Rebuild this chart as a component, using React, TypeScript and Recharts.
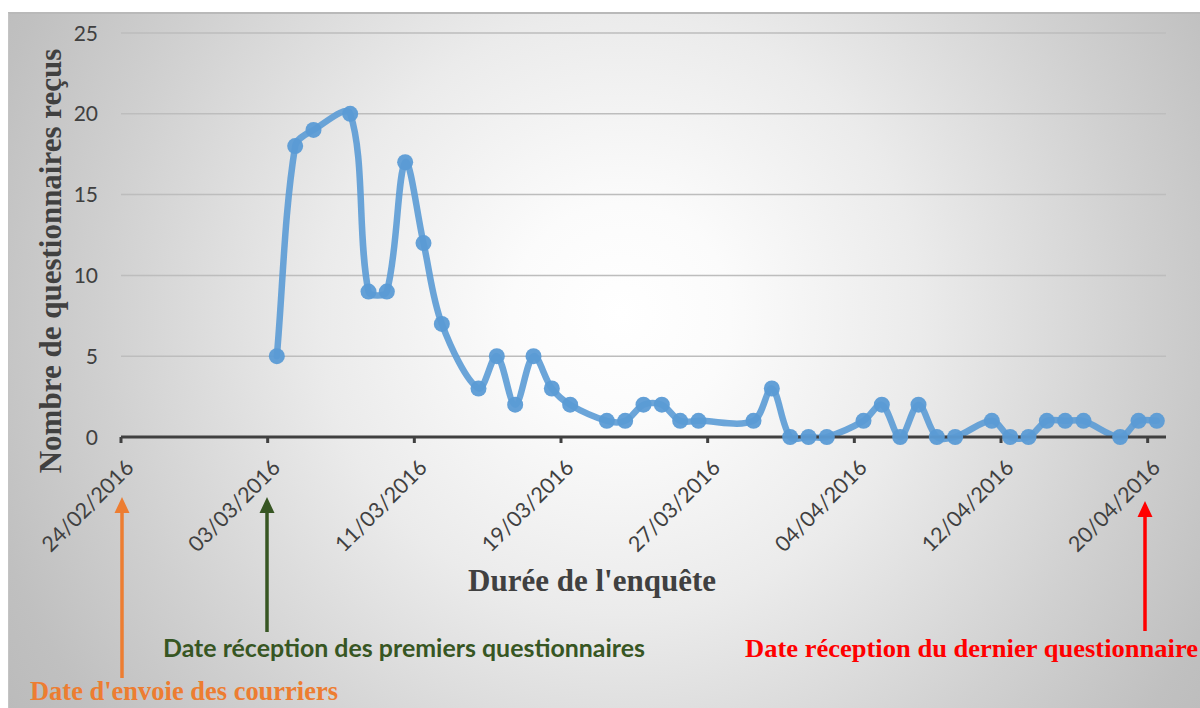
import React from "react";
import { LineChart, Line, XAxis, YAxis, CartesianGrid } from "recharts";

if (typeof document !== "undefined") {
  document.body.style.margin = "0";
  document.body.style.overflow = "hidden";
}

// ---- data ----
const tickLabels = [
  "24/02/2016",
  "03/03/2016",
  "11/03/2016",
  "19/03/2016",
  "27/03/2016",
  "04/04/2016",
  "12/04/2016",
  "20/04/2016",
];
const endLabel = "21/04/2016";

const receptionDates = [
  "03/03/2016", "04/03/2016", "05/03/2016", "07/03/2016", "08/03/2016",
  "09/03/2016", "10/03/2016", "11/03/2016", "12/03/2016", "14/03/2016",
  "15/03/2016", "16/03/2016", "17/03/2016", "18/03/2016", "19/03/2016",
  "21/03/2016", "22/03/2016", "23/03/2016", "24/03/2016", "25/03/2016",
  "26/03/2016", "29/03/2016", "30/03/2016", "31/03/2016", "01/04/2016",
  "02/04/2016", "04/04/2016", "05/04/2016", "06/04/2016", "07/04/2016",
  "08/04/2016", "09/04/2016", "11/04/2016", "12/04/2016", "13/04/2016",
  "14/04/2016", "15/04/2016", "16/04/2016", "18/04/2016", "19/04/2016",
  "20/04/2016",
];
const receivedCounts = [
  5, 18, 19, 20, 9,
  9, 17, 12, 7, 3,
  5, 2, 5, 3, 2,
  1, 1, 2, 2, 1,
  1, 1, 3, 0, 0,
  0, 1, 2, 0, 2,
  0, 0, 1, 0, 0,
  1, 1, 1, 0, 1,
  1,
];
const yTicks = [0, 5, 10, 15, 20, 25];

const yTitle = "Nombre de questionnaires reçus";
const xTitle = "Durée de l'enquête";
const noteSent = "Date d'envoie des courriers";
const noteFirst = "Date réception des premiers questionnaires";
const noteLast = "Date réception du dernier questionnaire";

// ---- helpers ----
const parse = (s: string) => {
  const [d, m, y] = s.split("/").map(Number);
  return Date.UTC(y, m - 1, d);
};
const base = parse(tickLabels[0]);
const dayOf = (s: string) => (parse(s) - base) / 86400000;

const tickDays = tickLabels.map(dayOf);
const data = receptionDates.map((s, i) => ({
  day: dayOf(s) + 0.5,
  v: receivedCounts[i],
}));

// Excel-like smoothed line (chord-length weighted Bezier tangents)
const excelCurve = (context: any) => {
  let pts: [number, number][] = [];
  const dist = (a: [number, number], b: [number, number]) =>
    Math.hypot(b[0] - a[0], b[1] - a[1]);
  return {
    areaStart() {},
    areaEnd() {},
    lineStart() {
      pts = [];
    },
    point(x: number, y: number) {
      pts.push([+x, +y]);
    },
    lineEnd() {
      const n = pts.length;
      if (!n) return;
      context.moveTo(pts[0][0], pts[0][1]);
      for (let i = 0; i < n - 1; i++) {
        const p0 = pts[i - 1] || pts[i];
        const p1 = pts[i];
        const p2 = pts[i + 1];
        const p3 = pts[i + 2] || p2;
        const d01 = dist(p0, p1);
        const d12 = dist(p1, p2);
        const d23 = dist(p2, p3);
        const f1 = d01 + d12 > 0 ? d12 / (d01 + d12) / 3 : 0;
        const f2 = d12 + d23 > 0 ? d12 / (d12 + d23) / 3 : 0;
        context.bezierCurveTo(
          p1[0] + (p2[0] - p0[0]) * f1,
          p1[1] + (p2[1] - p0[1]) * f1,
          p2[0] - (p3[0] - p1[0]) * f2,
          p2[1] - (p3[1] - p1[1]) * f2,
          p2[0],
          p2[1]
        );
      }
    },
  };
};

const XTick = (props: any) => {
  const { x, payload } = props;
  const idx = tickDays.indexOf(payload.value);
  const label = idx >= 0 ? tickLabels[idx] : "";
  const tx = x + 14;
  const ty = 469;
  return (
    <text
      x={tx}
      y={ty}
      transform={`rotate(-45, ${tx}, ${ty})`}
      textAnchor="end"
      fontFamily="Lato, 'Open Sans', sans-serif"
      fontSize={21.5}
      fill="#404040"
    >
      {label}
    </text>
  );
};

const YTick = (props: any) => {
  const { y, payload } = props;
  return (
    <text
      x={98}
      y={y + 7.5}
      textAnchor="end"
      fontFamily="Lato, 'Open Sans', sans-serif"
      fontSize={21}
      fill="#404040"
    >
      {payload.value}
    </text>
  );
};

const Arrow = ({ x, tip, bottom, color }: any) => (
  <g>
    <line x1={x} y1={tip + 12} x2={x} y2={bottom} stroke={color} strokeWidth={3.5} />
    <polygon points={`${x},${tip} ${x - 7.5},${tip + 16} ${x + 7.5},${tip + 16}`} fill={color} />
  </g>
);

export default function App() {
  return (
    <div style={{ position: "relative", width: 1200, height: 708, background: "#fff", overflow: "hidden" }}>
      <div
        style={{
          position: "absolute",
          left: 8,
          top: 12,
          width: 1192,
          height: 696,
          boxSizing: "border-box",
          borderTop: "2px solid #b9b9b9",
          borderLeft: "1px solid #c4c4c4",
          background:
            "radial-gradient(circle at 612px 300px, #ffffff 0px, #fbfbfb 110px, #ebebeb 300px, #d0d0d0 520px, #c0c0c0 660px, #b6b6b6 800px)",
        }}
      />
      <div style={{ position: "absolute", left: 0, top: 0 }}>
        <LineChart
          width={1200}
          height={708}
          data={data}
          margin={{ top: 33, right: 34, left: 41, bottom: 171 }}
        >
          <CartesianGrid horizontal vertical={false} stroke="#bdbdbd" strokeWidth={1.5} />
          <XAxis
            dataKey="day"
            type="number"
            domain={[0, dayOf(endLabel)]}
            ticks={tickDays}
            interval={0}
            height={100}
            axisLine={{ stroke: "#404040", strokeWidth: 3 }}
            tickLine={{ stroke: "#404040", strokeWidth: 3 }}
            tickSize={6}
            tick={<XTick />}
            allowDataOverflow
          />
          <YAxis
            type="number"
            domain={[0, 25]}
            ticks={yTicks}
            width={80}
            axisLine={false}
            tickLine={false}
            tick={<YTick />}
          />
          <Line
            type={excelCurve as any}
            dataKey="v"
            stroke="#5B9BD5"
            strokeOpacity={0.9}
            strokeWidth={6.5}
            strokeLinejoin="round"
            strokeLinecap="round"
            dot={{ r: 8, fill: "#5B9BD5", fillOpacity: 0.95, stroke: "none", strokeWidth: 0 }}
            activeDot={false}
            isAnimationActive={false}
          />
        </LineChart>
      </div>
      <svg
        width={1200}
        height={708}
        style={{ position: "absolute", left: 0, top: 0, pointerEvents: "none" }}
      >
        <text
          transform="translate(61, 261) rotate(-90)"
          textAnchor="middle"
          fontFamily="'Liberation Serif', 'Times New Roman', serif"
          fontWeight="bold"
          fontSize={31}
          fill="#404040"
        >
          {yTitle}
        </text>
        <text
          x={592}
          y={591}
          textAnchor="middle"
          fontFamily="'Liberation Serif', 'Times New Roman', serif"
          fontWeight="bold"
          fontSize={31}
          fill="#404040"
        >
          {xTitle}
        </text>

        <Arrow x={122} tip={497} bottom={678} color="#ED7D31" />
        <Arrow x={267} tip={497} bottom={632} color="#375623" />
        <Arrow x={1145} tip={501} bottom={631} color="#FF0000" />

        <text
          x={30}
          y={700}
          textLength={308}
          lengthAdjust="spacingAndGlyphs"
          fontFamily="'Liberation Serif', 'Times New Roman', serif"
          fontWeight="bold"
          fontSize={27}
          fill="#ED7D31"
        >
          {noteSent}
        </text>
        <text
          x={163}
          y={657}
          textLength={482}
          lengthAdjust="spacingAndGlyphs"
          fontFamily="Lato, 'Open Sans', sans-serif"
          fontWeight="bold"
          fontSize={24}
          fill="#375623"
        >
          {noteFirst}
        </text>
        <text
          x={745}
          y={657}
          textLength={453}
          lengthAdjust="spacingAndGlyphs"
          fontFamily="'Liberation Serif', 'Times New Roman', serif"
          fontWeight="bold"
          fontSize={26}
          fill="#FF0000"
        >
          {noteLast}
        </text>
      </svg>
    </div>
  );
}
